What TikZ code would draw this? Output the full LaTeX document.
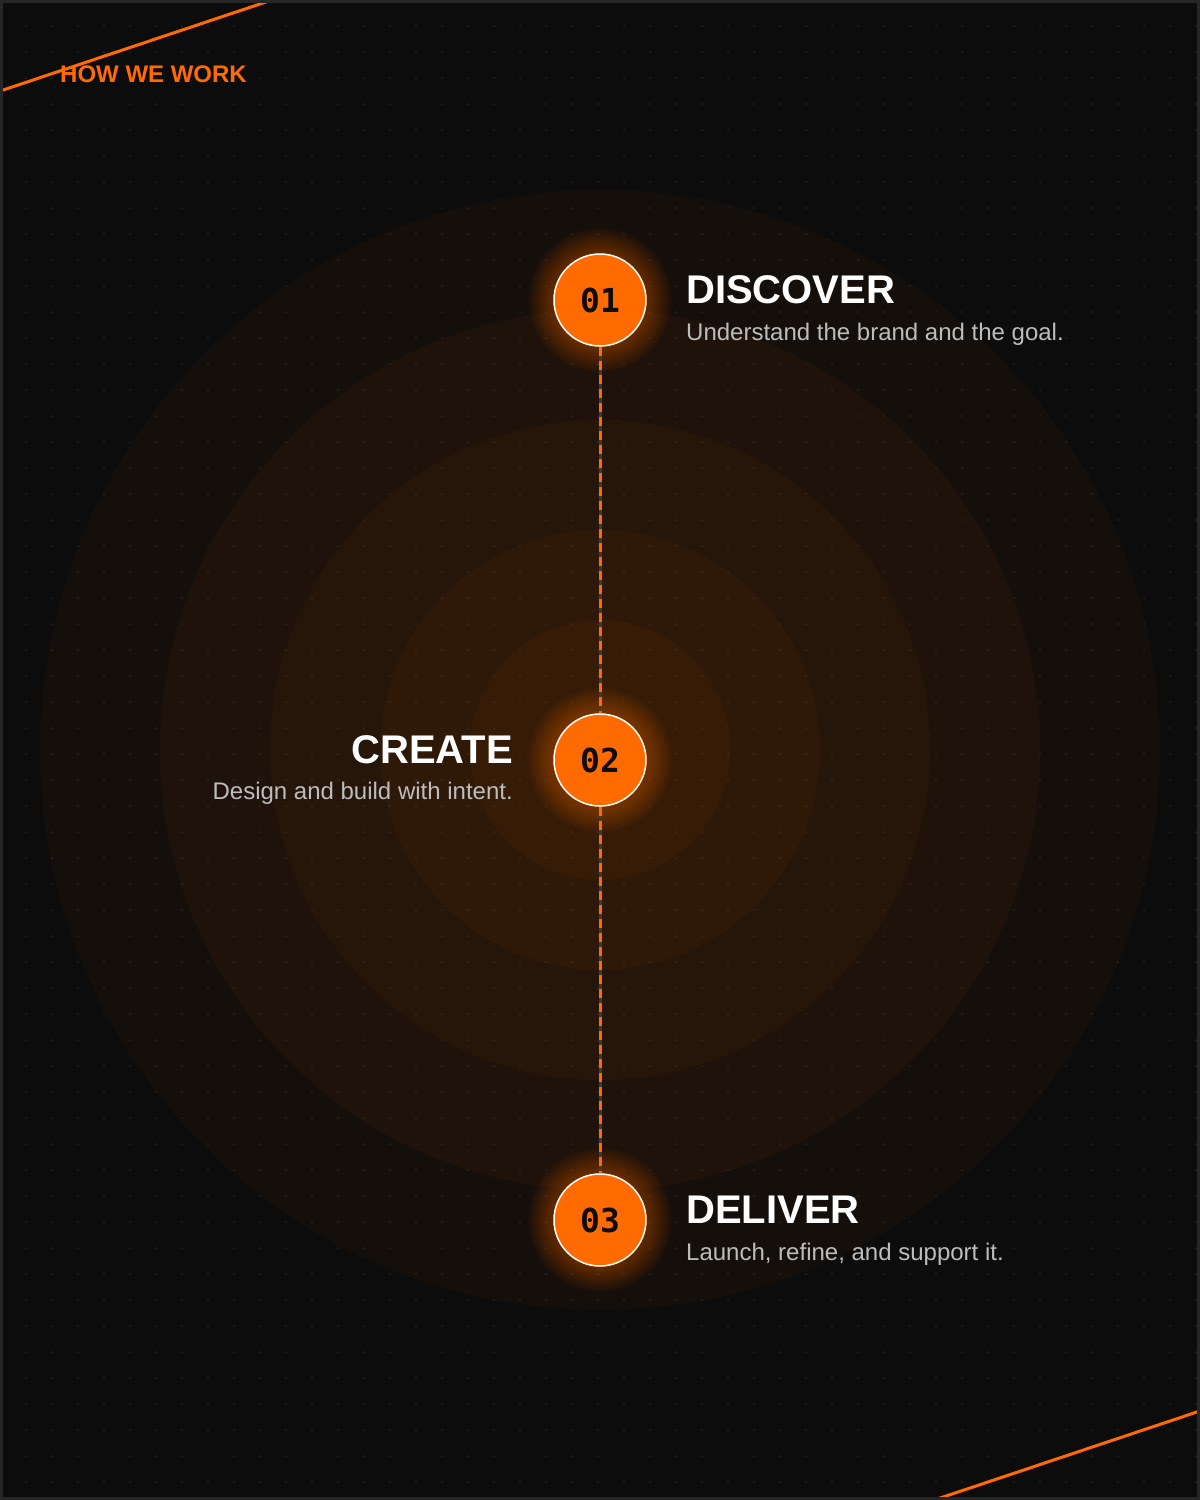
\documentclass[tikz,border=0pt]{standalone}
\usepackage{fontspec}
\setmainfont{Liberation Sans}
\newfontfamily\monofont{DejaVu Sans Mono}
\definecolor{bg}{HTML}{0C0C0C}
\definecolor{edge}{HTML}{262626}
\definecolor{dotgray}{HTML}{252525}
\definecolor{accent}{HTML}{FF6B00}
\definecolor{subgray}{HTML}{BDBDBD}
\definecolor{linegray}{HTML}{3A3A3A}
\tikzstyle{index orange}=[circle, minimum size=92pt, inner sep=0pt, fill=accent, draw=white, line width=1.5pt, text=black!95, font=\monofont\bfseries\fontsize{33}{33}\selectfont]
\tikzstyle{title white}=[inner sep=0pt, text=white, font=\bfseries\fontsize{40}{40}\selectfont]
\tikzstyle{caption gray}=[inner sep=0pt, text=subgray, font=\fontsize{24}{24}\selectfont]
\tikzstyle{ring}=[fill=accent,fill opacity=.04]
\tikzstyle{glow}=[fill=accent,fill opacity=.03]

\begin{document}
\begin{tikzpicture}[x=1pt,y=-1pt]
    \useasboundingbox (0,0) rectangle (1200,1500);
    \clip (0,0) rectangle (1200,1500);

    % Background
    \fill[bg] (0,0) rectangle (1200,1500);
    \foreach \i in {1,...,46}
      \foreach \j in {1,...,57}
        \fill[dotgray] (26*\i,26*\j) circle (1);

    % Rings
    \foreach \r in {560,440,330,220,130}
      \fill[ring] (600,750) circle (\r);

    % Accents
    \draw[accent,line width=3pt] (-10,94.4) -- (280,-2.7);
    \draw[accent,line width=3pt] (930,1501.4) -- (1210,1407.6);

    % Glows
    \foreach \y in {300,760,1220}
      \foreach \r in {72,70,...,48}
        \fill[glow] (600,\y) circle (\r);

    % Steps
    \draw (600,300) node[index orange] (s1) {01};
    \draw (600,760) node[index orange] (s2) {02};
    \draw (600,1220) node[index orange] (s3) {03};
    \foreach \a/\b in {s1/s2,s2/s3} {
      \draw[linegray,line width=3pt] (\a) -- (\b);
      \draw[accent,line width=3pt,dash pattern=on 9pt off 5pt] (\a) -- (\b);
    }

    % Texts
    \draw (60,82) node[anchor=base west,inner sep=0pt,text=accent,font=\bfseries\fontsize{24}{24}\selectfont] (head) {HOW WE WORK};
    \draw (686,303) node[title white,anchor=base west] (t1) {DISCOVER};
    \draw (686,340) node[caption gray,anchor=base west] (c1) {Understand the brand and the goal.};
    \draw (513,763) node[title white,anchor=base east] (t2) {CREATE};
    \draw (513,799) node[caption gray,anchor=base east] (c2) {Design and build with intent.};
    \draw (686,1223) node[title white,anchor=base west] (t3) {DELIVER};
    \draw (686,1260) node[caption gray,anchor=base west] (c3) {Launch, refine, and support it.};

    % Frame
    \draw[edge,line width=3pt] (1.5,1.5) rectangle (1198.5,1498.5);

\end{tikzpicture}
\end{document}
